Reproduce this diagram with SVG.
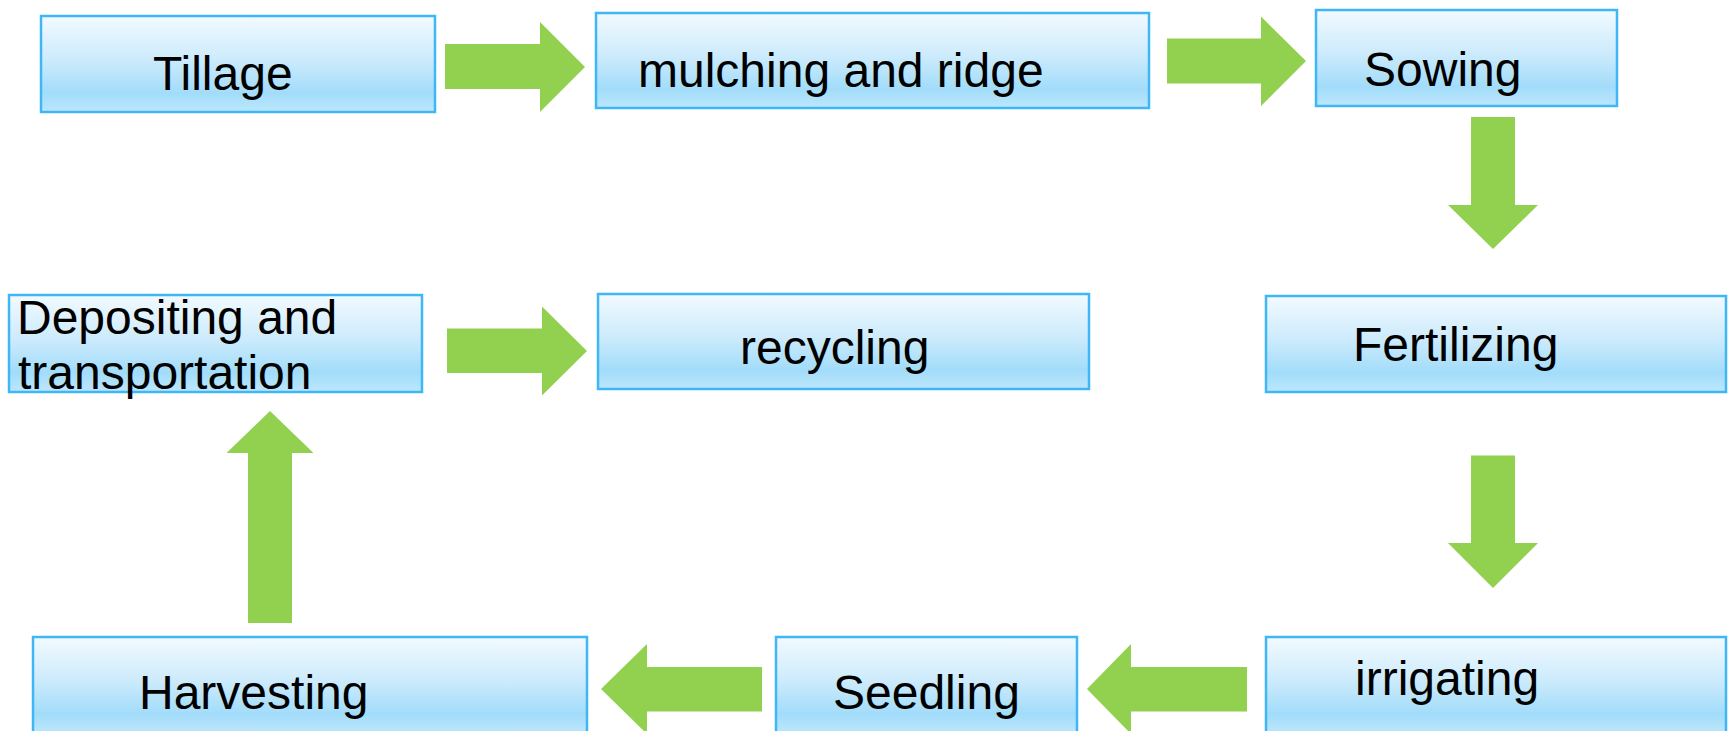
<svg xmlns="http://www.w3.org/2000/svg" width="1729" height="731" viewBox="0 0 1729 731">
  <defs>
    <linearGradient id="boxFill" x1="0" y1="0" x2="0" y2="1">
      <stop offset="0" stop-color="#f2faff"/>
      <stop offset="0.45" stop-color="#cdebfc"/>
      <stop offset="0.8" stop-color="#a2dcfa"/>
      <stop offset="1" stop-color="#bde7fc"/>
    </linearGradient>
  </defs>
  <style>
    .box { fill: url(#boxFill); stroke: #3fb6f6; stroke-width: 2.5; }
    .label { font-family: "Liberation Sans", Arial, sans-serif; font-size: 48px; fill: #000000; }
    .arrow { fill: #92d050; stroke: none; }
  </style>
  <rect width="1729" height="731" fill="#ffffff"/>

  <!-- flow arrows -->
  <g id="connectors">
    <polygon class="arrow" points="445,44 540,44 540,22 585,67 540,112 540,89 445,89"/>
    <polygon class="arrow" points="1167,38.5 1261,38.5 1261,16.5 1306,61 1261,106 1261,83.5 1167,83.5"/>
    <polygon class="arrow" points="1471,117 1515,117 1515,205 1538,205 1493,249 1448,205 1471,205"/>
    <polygon class="arrow" points="1471,455.5 1515,455.5 1515,543 1538,543 1493,588 1448,543 1471,543"/>
    <polygon class="arrow" points="1247,667 1131,667 1131,644 1087,689 1131,734 1131,711.5 1247,711.5"/>
    <polygon class="arrow" points="762,667 647,667 647,644 601,689 647,734 647,711.5 762,711.5"/>
    <polygon class="arrow" points="248,623 248,453 226.5,453 270,411 313.5,453 292,453 292,623"/>
    <polygon class="arrow" points="447,328.5 542,328.5 542,306.5 587,351 542,395.5 542,373 447,373"/>
  </g>

  <g id="tillage">
    <rect class="box" x="41" y="16" width="394" height="96"/>
    <text class="label" x="153" y="90">Tillage</text>
  </g>
  <g id="mulching">
    <rect class="box" x="596" y="13" width="553" height="95"/>
    <text class="label" x="638" y="87">mulching and ridge</text>
  </g>
  <g id="sowing">
    <rect class="box" x="1316" y="10" width="301" height="96"/>
    <text class="label" x="1364" y="86">Sowing</text>
  </g>
  <g id="fertilizing">
    <rect class="box" x="1266" y="296" width="460" height="96"/>
    <text class="label" x="1353" y="361">Fertilizing</text>
  </g>
  <g id="recycling">
    <rect class="box" x="598" y="294" width="491" height="95"/>
    <text class="label" x="740" y="364">recycling</text>
  </g>
  <g id="depositing">
    <rect class="box" x="9" y="295" width="413" height="97"/>
    <text class="label" x="17" y="334">Depositing and</text>
    <text class="label" x="18" y="389">transportation</text>
  </g>
  <g id="harvesting">
    <rect class="box" x="33" y="637" width="554" height="96"/>
    <text class="label" x="139" y="709">Harvesting</text>
  </g>
  <g id="seedling">
    <rect class="box" x="776" y="637" width="301" height="96"/>
    <text class="label" x="833" y="709">Seedling</text>
  </g>
  <g id="irrigating">
    <rect class="box" x="1266" y="637" width="460" height="96"/>
    <text class="label" x="1355" y="695">irrigating</text>
  </g>
</svg>
